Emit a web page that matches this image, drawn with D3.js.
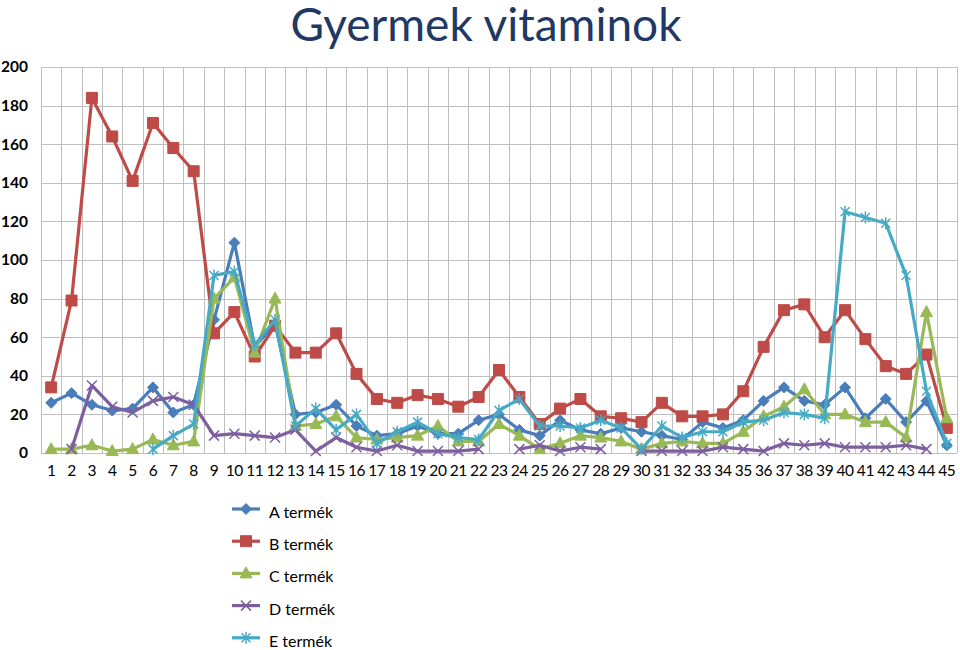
<!DOCTYPE html>
<html>
<head>
<meta charset="utf-8">
<script src="https://cdn.jsdelivr.net/npm/d3@7"></script>
<style>
  html, body { margin: 0; padding: 0; background: #fff; }
  svg { display: block; font-family: Lato, "Open Sans", sans-serif; }
</style>
</head>
<body>
<svg id="chart" width="960" height="650"></svg>
<script>
const title = "Gyermek vitaminok";
const categories = d3.range(1, 46).map(String);
const yTicks = [0, 20, 40, 60, 80, 100, 120, 140, 160, 180, 200];

const seriesNames = ["A termék", "B termék", "C termék", "D termék", "E termék"];
const seriesA = [26,31,25,22,23,34,21,25,69,109,55,67,20,21,25,14,9,10,14,10,10,17,20,12,9,17,12,10,13,11,9,7,16,13,17,27,34,27,25,34,18,28,16,27,4];
const seriesB = [34,79,184,164,141,171,158,146,62,73,50,66,52,52,62,41,28,26,30,28,24,29,43,29,15,23,28,19,18,16,26,19,19,20,32,55,74,77,60,74,59,45,41,51,13];
const seriesC = [2,2,4,1,2,7,4,6,80,91,52,80,14,15,19,8,7,8,9,14,6,6,15,9,2,5,9,8,6,2,5,6,5,5,11,19,24,33,20,20,16,16,8,73,18];
const seriesD = [null,2,35,24,21,27,29,25,9,10,9,8,12,1,8,3,1,4,1,1,1,2,null,2,4,1,3,2,null,1,1,1,1,3,2,1,5,4,5,3,3,3,4,2,null];
const seriesE = [null,null,null,null,null,2,9,15,92,94,56,69,14,23,12,20,5,11,16,10,8,7,22,28,14,14,13,17,13,2,14,8,11,11,16,17,21,20,18,125,122,119,92,32,5];

const colors = ["#4A7EBB", "#BE4B48", "#98B954", "#7D5FA0", "#46AAC5"];
const markers = ["diamond", "square", "triangle", "x", "star"];
const seriesData = [seriesA, seriesB, seriesC, seriesD, seriesE];

const svg = d3.select("#chart");
const plotLeft = 41, plotRight = 957, plotTop = 67, plotBottom = 453;

const x = d3.scaleBand().domain(categories).range([plotLeft, plotRight]).padding(0);
const y = d3.scaleLinear().domain([0, 200]).range([plotBottom, plotTop]);

// Title
svg.append("text")
  .attr("x", 486).attr("y", 41)
  .attr("text-anchor", "middle")
  .attr("font-size", 46)
  .attr("fill", "#1F3864")
  .text(title);

// Grid
const grid = svg.append("g");
grid.selectAll("line.h").data(yTicks).join("line")
  .attr("x1", plotLeft).attr("x2", plotRight)
  .attr("y1", d => Math.round(y(d)) + 0.5).attr("y2", d => Math.round(y(d)) + 0.5)
  .attr("stroke", "#BFBFBF").attr("stroke-width", 1);
const bounds = categories.map(c => x(c)).concat([x(categories[categories.length - 1]) + x.bandwidth()]);
grid.selectAll("line.v").data(bounds).join("line")
  .attr("x1", d => Math.round(d) + 0.5).attr("x2", d => Math.round(d) + 0.5)
  .attr("y1", plotTop).attr("y2", plotBottom)
  .attr("stroke", "#BFBFBF").attr("stroke-width", 1);

// Axes labels
const yAxis = d3.axisLeft(y).tickValues(yTicks).tickSize(0).tickPadding(0);
const gy = svg.append("g").attr("transform", `translate(28,0)`).call(yAxis);
gy.select(".domain").remove();
gy.selectAll("text").attr("font-size", 15.5).attr("font-weight", "bold").attr("fill", "#000")
  .attr("font-family", "Lato, sans-serif");

const xAxis = d3.axisBottom(x).tickSize(0).tickPadding(0);
const gx = svg.append("g").attr("transform", `translate(0,${plotBottom + 12})`).call(xAxis);
gx.select(".domain").remove();
gx.selectAll("text").attr("font-size", 15.5).attr("fill", "#000")
  .attr("letter-spacing", "-0.4px")
  .attr("font-family", "Lato, sans-serif");

// Marker paths
function markerPath(type) {
  switch (type) {
    case "diamond": return "M0,-5.5L5.5,0L0,5.5L-5.5,0Z";
    case "square": return "M-5.5,-5.5H5.5V5.5H-5.5Z";
    case "triangle": return "M0,-6.5L6,4.5H-6Z";
    case "x": return "M-5,-5L5,5M5,-5L-5,5";
    case "star": return "M-4.5,-4.5L4.5,4.5M4.5,-4.5L-4.5,4.5M0,-6V6";
  }
}
function drawMarker(g, type, color) {
  const filled = !(type === "x" || type === "star");
  g.append("path").attr("d", markerPath(type))
    .attr("fill", filled ? color : "none")
    .attr("stroke", color)
    .attr("stroke-width", filled ? 1 : 1.5);
}

const line = d3.line()
  .defined(d => d.v !== null)
  .x(d => x(d.c) + x.bandwidth() / 2)
  .y(d => y(d.v));

seriesData.forEach((vals, i) => {
  const pts = categories.map((c, j) => ({ c, v: vals[j] }));
  const g = svg.append("g");
  g.append("path").datum(pts)
    .attr("d", line)
    .attr("fill", "none")
    .attr("stroke", colors[i])
    .attr("stroke-width", 3.2)
    .attr("stroke-linejoin", "round");
  pts.filter(p => p.v !== null).forEach(p => {
    const mg = g.append("g").attr("transform", `translate(${x(p.c) + x.bandwidth() / 2},${y(p.v)})`);
    drawMarker(mg, markers[i], colors[i]);
  });
});

// Legend
const legend = svg.append("g");
seriesNames.forEach((name, i) => {
  const yy = 509 + i * 32.2;
  const lg = legend.append("g");
  lg.append("line").attr("x1", 232).attr("x2", 260).attr("y1", yy).attr("y2", yy)
    .attr("stroke", colors[i]).attr("stroke-width", 3.2);
  const mg = lg.append("g").attr("transform", `translate(246,${yy})`);
  drawMarker(mg, markers[i], colors[i]);
  lg.append("text").attr("x", 269).attr("y", yy + 9)
    .attr("font-size", 16).attr("fill", "#000").text(name);
});
</script>
</body>
</html>
